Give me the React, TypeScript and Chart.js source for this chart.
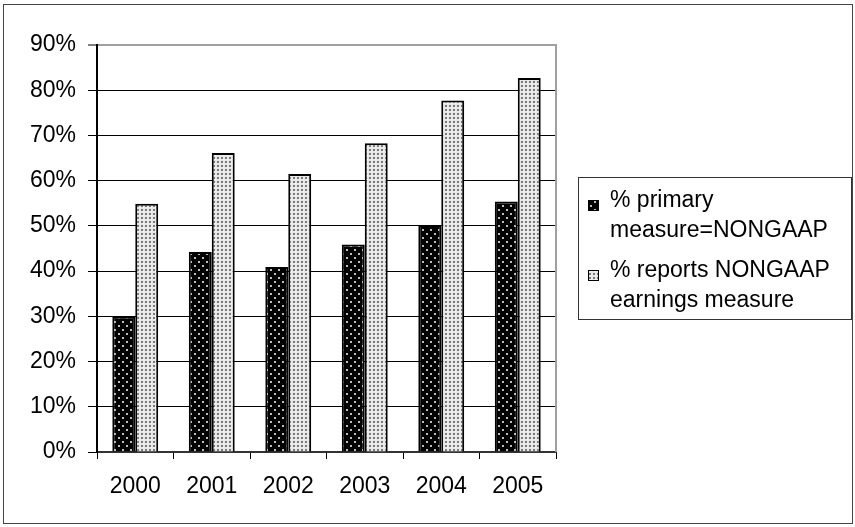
import React, { useEffect, useRef } from "react";
import { Chart, registerables } from "chart.js";

Chart.register(...registerables);

// Survey years on the category axis
const years = ["2000", "2001", "2002", "2003", "2004", "2005"];

// Share of firms whose primary earnings measure is non-GAAP (%)
const primaryNonGaap = [29.9, 44.2, 40.9, 45.9, 50.2, 55.4];

// Share of firms reporting any non-GAAP earnings measure (%)
const reportsNonGaap = [54.9, 66.1, 61.5, 68.3, 77.7, 82.7];

// Legend text, one entry per series, split into its printed lines
const legendLines = [
  ["% primary", "measure=NONGAAP"],
  ["% reports NONGAAP", "earnings measure"],
];

// Value axis range and step (percent)
const yMin = 0;
const yMax = 90;
const yStep = 10;

const FONT_FAMILY = '"Liberation Sans", Arial, sans-serif';
const FONT_SIZE = 23;

// Black fill with sparse light specks
function makeDarkPattern(): CanvasPattern | string {
  const c = document.createElement("canvas");
  c.width = 8;
  c.height = 8;
  const g = c.getContext("2d");
  if (!g) return "#000";
  g.fillStyle = "#000";
  g.fillRect(0, 0, 8, 8);
  g.fillStyle = "#bdbdbd";
  g.fillRect(2, 1, 2, 2);
  g.fillRect(6, 5, 2, 2);
  return g.createPattern(c, "repeat") || "#000";
}

// Pale fill with a dense grey dot grid
function makeLightPattern(): CanvasPattern | string {
  const c = document.createElement("canvas");
  c.width = 4;
  c.height = 4;
  const g = c.getContext("2d");
  if (!g) return "#ddd";
  g.fillStyle = "#e8e8e8";
  g.fillRect(0, 0, 4, 4);
  g.fillStyle = "#7a7a7a";
  g.fillRect(1, 1, 2, 2);
  g.fillStyle = "#f8f8f8";
  g.fillRect(3, 3, 1, 1);
  return g.createPattern(c, "repeat") || "#ddd";
}

// Outer frame, plot-area frame and the two-line legend box
const framePlugin = {
  id: "frameAndLegend",
  afterDraw(chart: any) {
    const ctx = chart.ctx as CanvasRenderingContext2D;
    const area = chart.chartArea;
    ctx.save();

    // outer chart border
    ctx.strokeStyle = "#444";
    ctx.lineWidth = 1;
    ctx.strokeRect(3.5, 4.5, 849, 519);

    // right edge of the plot area
    ctx.strokeStyle = "#a0a0a0";
    ctx.lineWidth = 2;
    ctx.beginPath();
    ctx.moveTo(Math.round(area.right), area.top - 1);
    ctx.lineTo(Math.round(area.right), area.bottom);
    ctx.stroke();

    // legend
    const boxX = 578.5;
    const boxY = 177.5;
    const boxW = 273;
    const boxH = 142;
    ctx.strokeStyle = "#333";
    ctx.lineWidth = 1;
    ctx.strokeRect(boxX, boxY, boxW, boxH);

    ctx.font = `${FONT_SIZE}px ${FONT_FAMILY}`;
    ctx.fillStyle = "#000";
    ctx.textAlign = "left";
    ctx.textBaseline = "alphabetic";
    const textX = 610;
    const lineGap = 30;
    const entryGap = 40;
    let baseline = 207;
    chart.data.datasets.forEach((ds: any, i: number) => {
      const lines = legendLines[i] || [ds.label];
      ctx.fillStyle = ds.backgroundColor;
      ctx.fillRect(588, baseline - 7, 11, 11);
      ctx.strokeStyle = "#000";
      ctx.lineWidth = 1;
      ctx.strokeRect(588.5, baseline - 6.5, 10, 10);
      ctx.fillStyle = "#000";
      lines.forEach((line: string, j: number) => {
        ctx.fillText(line, textX, baseline + j * lineGap);
      });
      baseline += (lines.length - 1) * lineGap + entryGap;
    });

    ctx.restore();
  },
};

export default function App() {
  const canvasRef = useRef<HTMLCanvasElement | null>(null);

  useEffect(() => {
    const canvas = canvasRef.current;
    if (!canvas) return;
    const darkFill = makeDarkPattern();
    const lightFill = makeLightPattern();
    const font = { family: FONT_FAMILY, size: FONT_SIZE };

    const chart = new Chart(canvas, {
      type: "bar",
      data: {
        labels: years,
        datasets: [
          {
            label: legendLines[0].join(" "),
            data: primaryNonGaap,
            backgroundColor: darkFill as any,
            borderColor: "#000",
            borderWidth: 2,
            categoryPercentage: 0.6,
            barPercentage: 1.0,
          },
          {
            label: legendLines[1].join(" "),
            data: reportsNonGaap,
            backgroundColor: lightFill as any,
            borderColor: "#000",
            borderWidth: 2,
            categoryPercentage: 0.6,
            barPercentage: 1.0,
          },
        ],
      },
      options: {
        responsive: false,
        animation: false,
        devicePixelRatio: 1,
        layout: { padding: { left: 0, top: 45, right: 299, bottom: 0 } },
        plugins: {
          legend: { display: false },
          tooltip: { enabled: false },
        },
        scales: {
          x: {
            grid: {
              offset: true,
              drawOnChartArea: false,
              drawTicks: true,
              tickLength: 7,
              color: "#000",
              lineWidth: 1,
            },
            border: { display: true, color: "#333", width: 2 },
            ticks: { font, color: "#000", padding: 14, maxRotation: 0 },
            afterFit: (s: any) => {
              s.height = 75;
            },
          },
          y: {
            min: yMin,
            max: yMax,
            ticks: {
              stepSize: yStep,
              font,
              color: "#000",
              padding: 12,
              callback: (v: any) => `${v}%`,
            },
            grid: {
              color: (c: any) => (c.tick && c.tick.value === yMax ? "#a0a0a0" : "#000"),
              lineWidth: (c: any) => (c.tick && c.tick.value === yMax ? 2 : 1),
              tickColor: "#000",
              tickWidth: 1,
              tickLength: 9,
            },
            border: { display: true, color: "#000", width: 2 },
            afterFit: (s: any) => {
              s.width = 97;
            },
          },
        },
      },
      plugins: [framePlugin],
    });

    return () => {
      chart.destroy();
    };
  }, []);

  return (
    <div style={{ position: "fixed", left: 0, top: 0, width: 855, height: 527, background: "#fff" }}>
      <canvas ref={canvasRef} width={855} height={527} style={{ display: "block" }} />
    </div>
  );
}
